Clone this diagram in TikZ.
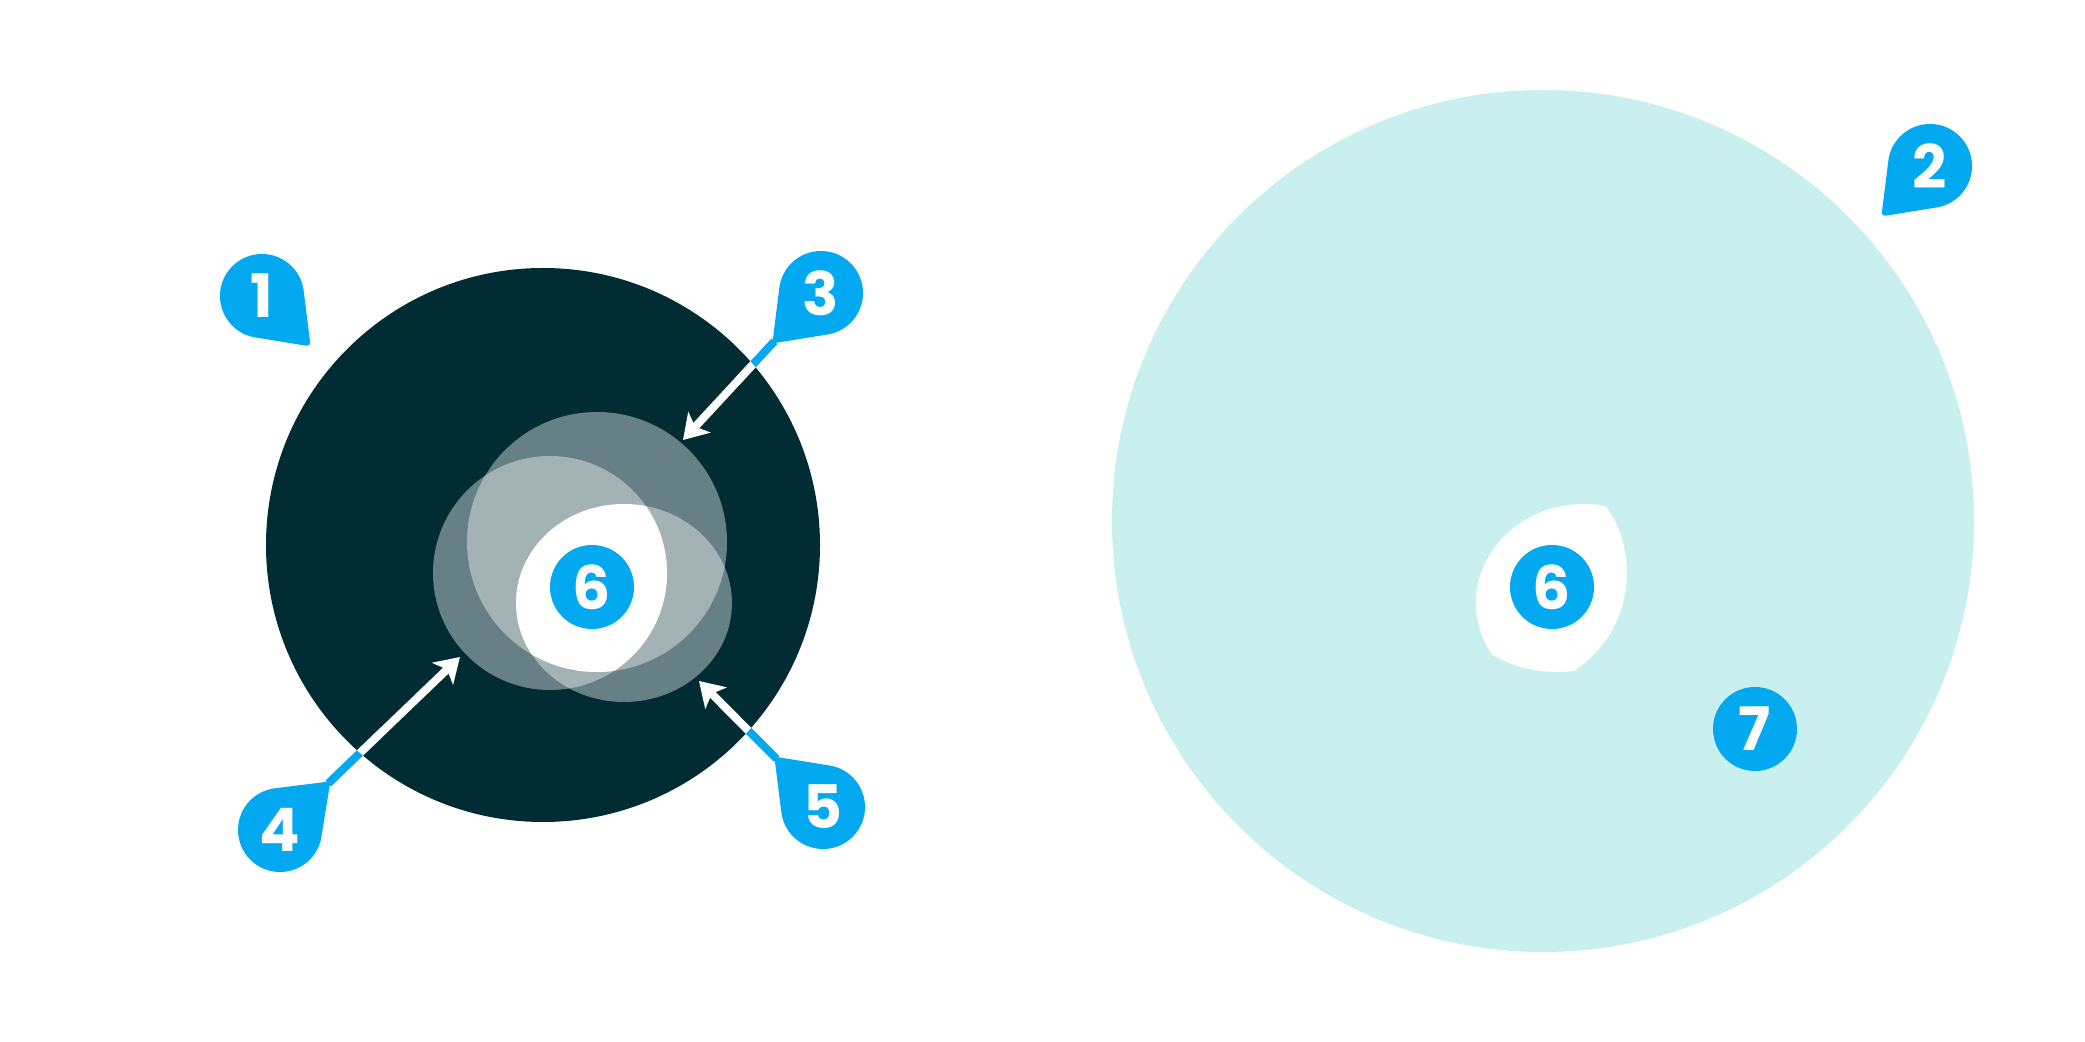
\documentclass[tikz,border=0pt]{standalone}
\usepackage{fontspec}
\setmainfont{Poppins}
\usetikzlibrary{arrows.meta,calc}
\definecolor{darkteal}{RGB}{2,44,52}
\definecolor{lightcyan}{RGB}{201,239,238}
\definecolor{badgeblue}{RGB}{2,168,240}
\newcommand\droppin[4]{%
  \begin{scope}[shift={#2}]
    \fill[badge] (0,0) circle[radius=42];
    \fill[badge, rounded corners=2pt] (#3:70) -- ({#3+52.5}:42) -- (0,0) -- ({#3-52.5}:42) -- cycle;
    \coordinate (#1tip) at (#3:67);
    \node[digit] (#1) at (0,0) {#4};
  \end{scope}}
\begin{document}
\begin{tikzpicture}[x=0.5pt,y=-0.5pt,
  badge/.style={fill=badgeblue},
  digit/.style={text=white, font=\fontsize{30}{30}\selectfont\bfseries, inner sep=0pt},
  roundbadge/.style={circle, fill=badgeblue, minimum size=42pt, digit},
  arrowline/.style={draw=white, line width=4pt, -{Stealth[length=12pt,width=15pt,inset=3pt]}},
  tailline/.style={draw=badgeblue, line width=4pt},
  veil/.style={fill=white, fill opacity=0.4}]

\fill[white] (0,0) rectangle (2085,1042);
\useasboundingbox (0,0) rectangle (2085,1042);

% large discs
\fill[darkteal] (543,545) circle[radius=277];
\fill[lightcyan] (1543,521) circle[radius=431];

% overlapping translucent circles
\fill[veil] (597,542) circle[radius=130];
\fill[veil] (550,573) circle[radius=117];
\fill[veil] (624,603) ellipse[x radius=108, y radius=99];
\begin{scope}
  \clip (597,542) circle[radius=130];
  \clip (550,573) circle[radius=117];
  \fill[white] (624,603) ellipse[x radius=108, y radius=99];
\end{scope}
\begin{scope}[shift={(960,0)}]
  \clip (597,542) circle[radius=130];
  \clip (550,573) circle[radius=117];
  \fill[white] (624,603) ellipse[x radius=108, y radius=99];
\end{scope}

% arrow targets
\coordinate (t3) at (683,440);
\coordinate (t4) at (460,657);
\coordinate (t5) at (699,681);

% pins
\droppin{b1}{(262,296)}{46}{1}
\droppin{b2}{(1930,166)}{134}{2}
\droppin{b3}{(821,293)}{134}{3}
\droppin{b4}{(280,830)}{-44}{4}
\droppin{b5}{(823,807)}{226}{5}

% connectors: blue tail outside the dark disc, white arrow inside it
\draw[tailline] (b3tip) -- ($(b3tip)!0.4!(t3)$);
\draw[tailline] (b4tip) -- ($(b4tip)!0.4!(t4)$);
\draw[tailline] (b5tip) -- ($(b5tip)!0.4!(t5)$);
\begin{scope}
  \clip (543,545) circle[radius=277];
  \draw[arrowline] (b3tip) -- (t3);
  \draw[arrowline] (b4tip) -- (t4);
  \draw[arrowline] (b5tip) -- (t5);
\end{scope}

% round badges
\node[roundbadge] (b6a) at (592,587) {6};
\node[roundbadge] (b6b) at (1552,587) {6};
\node[roundbadge] (b7) at (1755,729) {7};
\end{tikzpicture}
\end{document}
